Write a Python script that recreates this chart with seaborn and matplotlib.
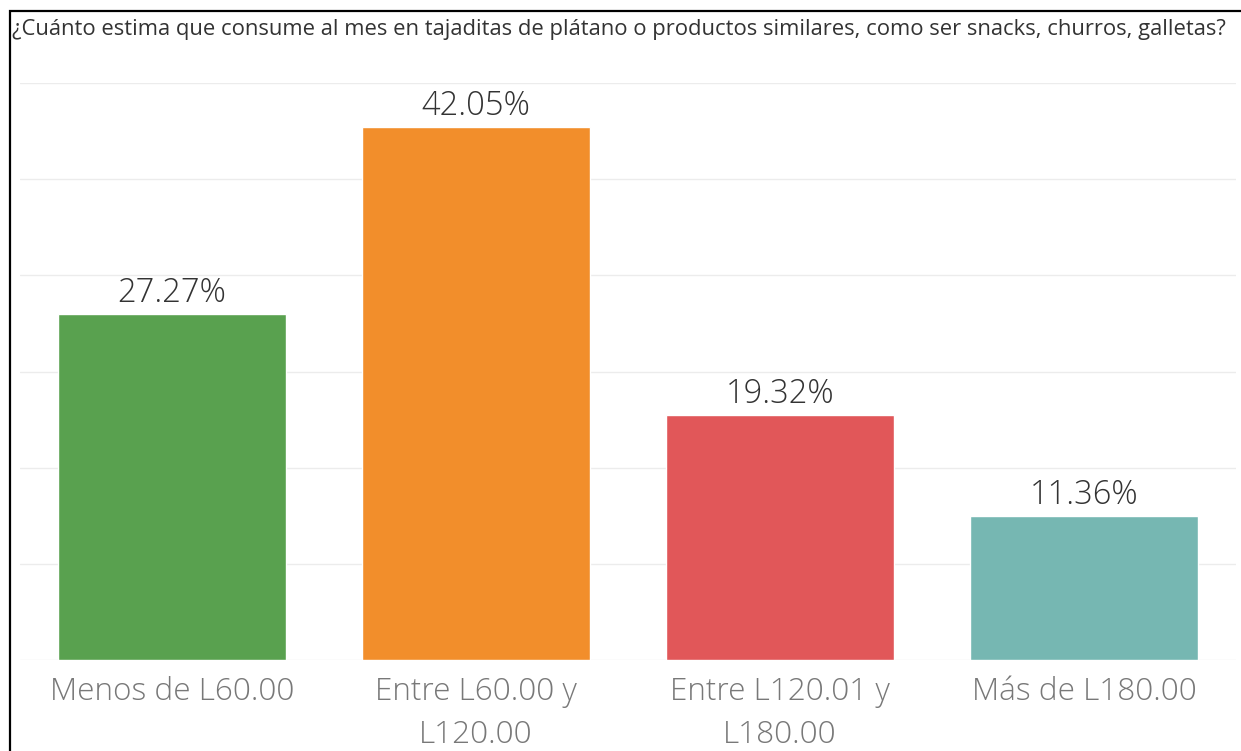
import matplotlib
matplotlib.use("Agg")
import seaborn as sns
import pandas as pd
import numpy as np
import matplotlib.pyplot as plt
from matplotlib.patches import Rectangle

titulo = "¿Cuánto estima que consume al mes en tajaditas de plátano o productos similares, como ser snacks, churros, galletas?"
categorias = ["Menos de L60.00", "Entre L60.00 y\nL120.00", "Entre L120.01 y\nL180.00", "Más de L180.00"]
porcentajes = [27.27, 42.05, 19.32, 11.36]
colores = ["#59A14F", "#F28E2B", "#E15759", "#76B7B2"]

data = pd.DataFrame({"categoria": categorias, "pct": porcentajes})

sns.set_theme(style="white")
plt.rcParams["font.family"] = ["Open Sans", "DejaVu Sans"]

fig = plt.figure(figsize=(12.41, 7.51), dpi=100)
ax = fig.add_axes([20 / 1241, 1 - 660 / 751, 1216 / 1241, 577 / 751])

sns.barplot(data=data, x="categoria", y="pct", hue="categoria", palette=colores,
            legend=False, width=0.75, saturation=1, ax=ax)

ymax = 45.5
ax.set_ylim(0, ymax)
ax.set_xlim(-0.5, 3.5)
ax.set_yticks(np.linspace(0, ymax, 7))
ax.yaxis.grid(True, color="#ececec", linewidth=1)
ax.set_axisbelow(True)
ax.tick_params(axis="y", left=False, labelleft=False)
ax.tick_params(axis="x", bottom=False, pad=5.5)
for lbl in ax.get_xticklabels():
    lbl.set_fontsize(22.7)
    lbl.set_color("#787878")
    lbl.set_fontweight("light")
    lbl.set_linespacing(1.45)
    lbl.set_verticalalignment("top")
for s in ax.spines.values():
    s.set_visible(False)
ax.set_xlabel("")
ax.set_ylabel("")

for cont in ax.containers:
    ax.bar_label(cont, labels=[f"{v:.2f}%" for v in cont.datavalues], padding=3,
                 fontsize=23.5, color="#333333", fontweight="light")

fig.text(12 / 1241, 1 - 29 / 751, titulo, fontsize=15.8, color="#333333",
         va="center", ha="left")

# marco negro de la captura
fig.patches.append(Rectangle((10 / 1241, -0.05), 1.1, 1 - 11 / 751 + 0.05,
                             transform=fig.transFigure, fill=False,
                             edgecolor="black", linewidth=1.6, clip_on=False))

fig.savefig("out.png", dpi=100)
